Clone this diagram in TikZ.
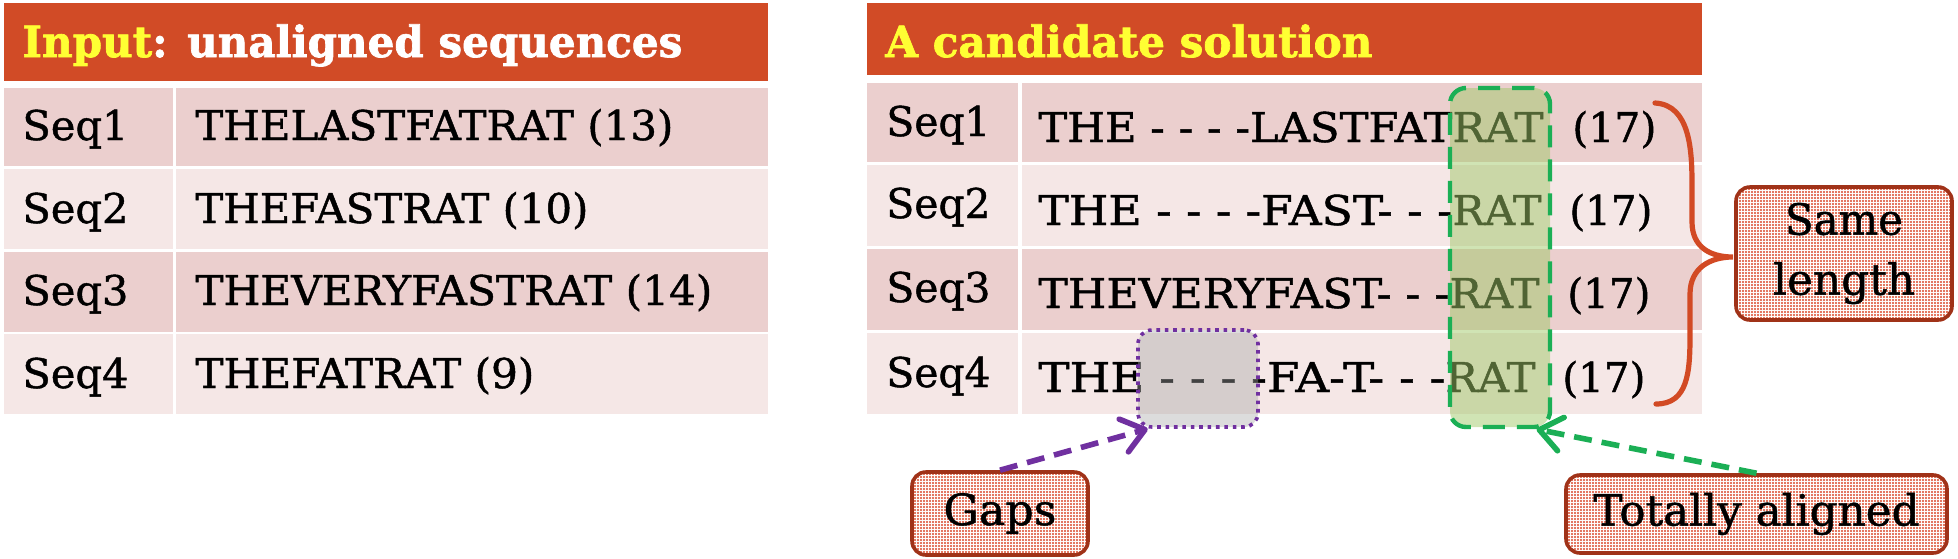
\documentclass[tikz,border=0pt]{standalone}
\usepackage{fontspec}
\setmainfont{DejaVu Serif}
\newfontfamily\seqfam{DejaVu Serif}[FakeBold=1.1]
\newfontfamily\hdrfam{DejaVu Serif}[UprightFont={* Bold},FakeBold=1.6]
\usetikzlibrary{arrows.meta,patterns.meta}
\definecolor{hdr}{HTML}{D14B26}
\definecolor{hyel}{HTML}{FFFF33}
\definecolor{rowA}{HTML}{EBCFCE}
\definecolor{rowB}{HTML}{F5E7E6}
\definecolor{gline}{HTML}{1BAF55}
\definecolor{gfill}{HTML}{A1C969}
\definecolor{pline}{HTML}{7030A0}
\definecolor{pfill}{HTML}{A7A7A7}
\definecolor{cborder}{HTML}{A03218}
\definecolor{cdot}{HTML}{D9482A}
\definecolor{bracecol}{HTML}{D24A24}
\newcommand{\fitw}[2]{\resizebox{\dimexpr #1pt/2\relax}{\height}{#2}}
\newcommand{\seqfont}{\seqfam\fontsize{20.5}{24}\selectfont}
\newcommand{\hdrfont}{\hdrfam\fontsize{21.5}{24}\selectfont}
\newcommand{\calfont}{\seqfam\fontsize{21.5}{30}\selectfont}
\begin{document}
\begin{tikzpicture}[x=0.5pt,y=-0.5pt,
  txt/.style={anchor=base west,inner sep=0pt,font=\seqfont},
  hdrtxt/.style={anchor=base west,inner sep=0pt,font=\hdrfont},
  callout/.style={draw=cborder,line width=1.8pt,rounded corners=7pt,
    preaction={fill=white},pattern={Dots[distance=1.5pt,radius=0.6pt]},
    pattern color=cdot,inner sep=0pt,font=\calfont,align=center},
  arr/.style={line width=2.8pt,dash pattern=on 9pt off 5pt,
    -{Straight Barb[round,length=11pt,width=17pt]}},
  greenbox/.style={draw=gline,line width=2.2pt,dash pattern=on 11pt off 6pt,
    rounded corners=8pt,fill=gfill,fill opacity=0.5,inner sep=0pt},
  gapsbox/.style={draw=pline,line width=1.8pt,dash pattern=on 1.8pt off 2.4pt,
    rounded corners=7pt,fill=pfill,fill opacity=0.4,inner sep=0pt}]
\useasboundingbox (0,0) rectangle (1958,558);
% ---------- left table ----------
\fill[hdr] (4,3) rectangle (768,81);
\fill[rowA] (4,88) rectangle (173,166);   \fill[rowA] (176,88) rectangle (768,166);
\fill[rowB] (4,169) rectangle (173,249);  \fill[rowB] (176,169) rectangle (768,249);
\fill[rowA] (4,252) rectangle (173,332);  \fill[rowA] (176,252) rectangle (768,332);
\fill[rowB] (4,334) rectangle (173,414);  \fill[rowB] (176,334) rectangle (768,414);
\node[hdrtxt] (h1) at (22,57) {\fitw{660}{\textcolor{hyel}{Input}\textcolor{white}{: unaligned sequences}}};
\node[txt] (l1) at (22,140) {\fitw{106}{Seq1}};
\node[txt] (l2) at (22,223) {\fitw{106}{Seq2}};
\node[txt] (l3) at (22,305) {\fitw{106}{Seq3}};
\node[txt] (l4) at (22,388) {\fitw{106}{Seq4}};
\node[txt] (s1) at (195,140) {\fitw{478}{THELASTFATRAT (13)}};
\node[txt] (s2) at (195,223) {\fitw{393}{THEFASTRAT (10)}};
\node[txt] (s3) at (195,305) {\fitw{517}{THEVERYFASTRAT (14)}};
\node[txt] (s4) at (195,388) {\fitw{339}{THEFATRAT (9)}};
% ---------- right table ----------
\fill[hdr] (867,3) rectangle (1702,75);
\fill[rowA] (867,83) rectangle (1018,162);  \fill[rowA] (1022,83) rectangle (1702,162);
\fill[rowB] (867,165) rectangle (1018,246); \fill[rowB] (1022,165) rectangle (1702,246);
\fill[rowA] (867,249) rectangle (1018,330); \fill[rowA] (1022,249) rectangle (1702,330);
\fill[rowB] (867,333) rectangle (1018,414); \fill[rowB] (1022,333) rectangle (1702,414);
\node[hdrtxt] (h2) at (885,57) {\fitw{487}{\textcolor{hyel}{A candidate solution}}};
\node[txt] (r1) at (886,136) {\fitw{104}{Seq1}};
\node[txt] (r2) at (886,218) {\fitw{104}{Seq2}};
\node[txt] (r3) at (886,302) {\fitw{104}{Seq3}};
\node[txt] (r4) at (886,387) {\fitw{104}{Seq4}};
\node[txt] (p1) at (1038,142) {\fitw{414}{THE - - - -LASTFAT}};
\node[txt] (p2) at (1038,225) {\fitw{414}{THE - - - -FAST- - -}};
\node[txt] (p3) at (1038,308) {\fitw{411}{THEVERYFAST- - -}};
\node[txt] (p4) at (1038,392) {\fitw{407}{THE - - - -FA-T- - -}};
\node[txt] (a1) at (1452,142) {\fitw{91}{RAT}};
\node[txt] (a2) at (1452,225) {\fitw{89}{RAT}};
\node[txt] (a3) at (1449,308) {\fitw{90}{RAT}};
\node[txt] (a4) at (1445,392) {\fitw{90}{RAT}};
\node[txt] (n1) at (1572,142) {\fitw{84}{(17)}};
\node[txt] (n2) at (1569,225) {\fitw{83}{(17)}};
\node[txt] (n3) at (1567,308) {\fitw{83}{(17)}};
\node[txt] (n4) at (1562,392) {\fitw{83}{(17)}};
% ---------- overlays ----------
\node[greenbox,minimum width=50pt,minimum height=169.5pt] (ratbox) at (1500,257.5) {};
\node[gapsbox,minimum width=60pt,minimum height=48.5pt] (gapbox) at (1198,378.5) {};
% ---------- brace ----------
\draw[bracecol,line width=2.6pt,line cap=round]
  (1655,103) .. controls (1690,105) and (1692,150) .. (1692,185)
  -- (1692,222) .. controls (1692,247) and (1710,257) .. (1733,257)
  .. controls (1710,257) and (1690,268) .. (1690,294)
  -- (1690,335) .. controls (1690,372) and (1688,404) .. (1656,404);
% ---------- callouts ----------
\node[callout,minimum width=88pt,minimum height=41.5pt] (gaps) at (1000,513.5) {\fitw{113}{Gaps}};
\node[callout,minimum width=190.5pt,minimum height=39pt] (tal) at (1756.5,514) {\fitw{326}{Totally aligned}};
\node[callout,minimum width=108pt,minimum height=66.5pt] (same) at (1844,253.5) {\fitw{118}{Same}\\\fitw{142}{length}};
% ---------- arrows ----------
\draw[arr,pline] (gaps.north) -- (gapbox.225);
\draw[arr,gline] (tal.north) -- (ratbox.-78);
\end{tikzpicture}
\end{document}
